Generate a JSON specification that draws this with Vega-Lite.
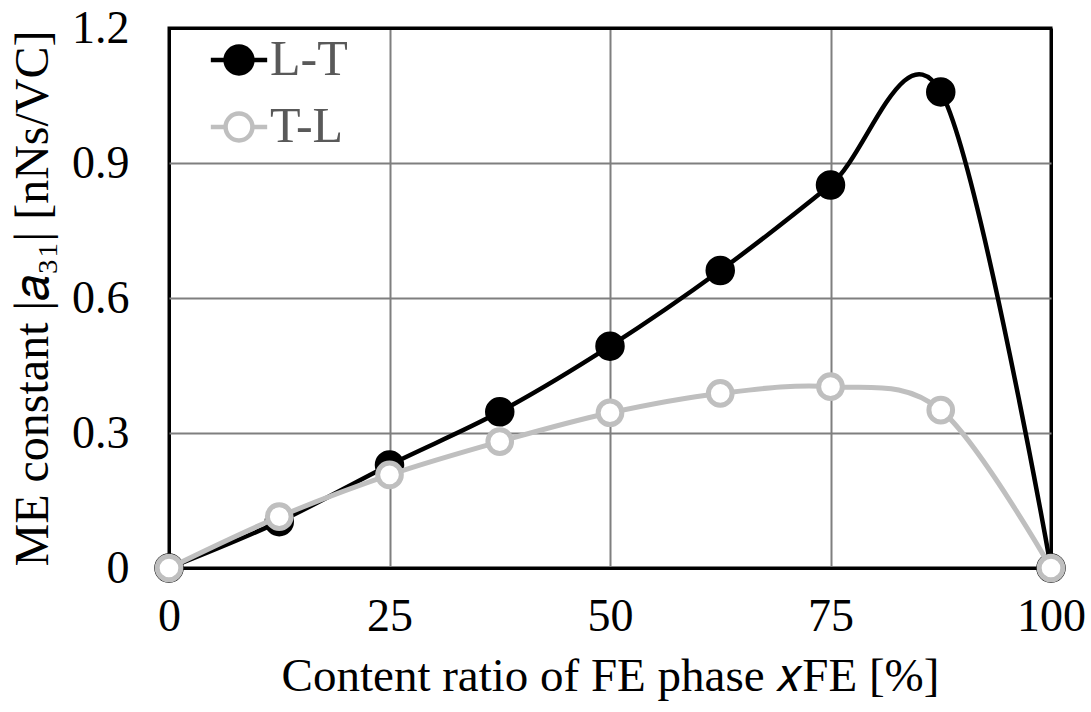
{
  "$schema": "https://vega.github.io/schema/vega-lite/v6.json",
  "width": 882,
  "height": 540,
  "autosize": "none",
  "padding": {"left": 169, "top": 28, "right": 40, "bottom": 144},
  "background": "white",
  "config": {
    "font": "Liberation Serif",
    "view": {"stroke": "black", "strokeWidth": 3},
    "legend": {
      "orient": "none", "legendX": 45, "legendY": 7, "title": null, "padding": 0,
      "symbolType": "M-1,0A1,1,0,1,0,1,0A1,1,0,1,0,-1,0Z M-2.1,0H-1 M1,0H2.1",
      "symbolSize": 720, "symbolStrokeWidth": 4.5,
      "labelFont": "Liberation Serif", "labelFontSize": 50, "labelColor": "#595959",
      "labelOffset": 6, "rowPadding": 17, "symbolOpacity": 1
    }
  },
  "data": {
    "values": [
      {"x": 0, "y": 0, "s": "L-T"},
      {"x": 12.5, "y": 0.103, "s": "L-T"},
      {"x": 25, "y": 0.229, "s": "L-T"},
      {"x": 37.5, "y": 0.347, "s": "L-T"},
      {"x": 50, "y": 0.493, "s": "L-T"},
      {"x": 62.5, "y": 0.661, "s": "L-T"},
      {"x": 75, "y": 0.851, "s": "L-T"},
      {"x": 87.5, "y": 1.058, "s": "L-T"},
      {"x": 100, "y": 0, "s": "L-T"},
      {"x": 0, "y": 0, "s": "T-L"},
      {"x": 12.5, "y": 0.114, "s": "T-L"},
      {"x": 25, "y": 0.207, "s": "T-L"},
      {"x": 37.5, "y": 0.281, "s": "T-L"},
      {"x": 50, "y": 0.345, "s": "T-L"},
      {"x": 62.5, "y": 0.388, "s": "T-L"},
      {"x": 75, "y": 0.403, "s": "T-L"},
      {"x": 87.5, "y": 0.351, "s": "T-L"},
      {"x": 100, "y": 0, "s": "T-L"}
    ]
  },
  "encoding": {
    "x": {
      "field": "x", "type": "quantitative",
      "scale": {"domain": [0, 100], "nice": false, "zero": false},
      "axis": {
        "values": [0, 25, 50, 75, 100],
        "title": "Content ratio of FE phase 𝑥FE [%]",
        "titleFont": "Liberation Serif", "titleFontSize": 47, "titleFontWeight": "normal", "titleColor": "black",
        "titlePadding": 14,
        "labelFont": "Liberation Serif", "labelFontSize": 46, "labelColor": "black",
        "labelPadding": 26, "labelFlush": false,
        "ticks": false, "tickSize": 0, "domain": false,
        "grid": true,
        "gridColor": {"condition": {"test": "datum.value == 0 || datum.value == 100", "value": "black"}, "value": "#7f7f7f"},
        "gridWidth": {"condition": {"test": "datum.value == 0 || datum.value == 100", "value": 3}, "value": 2}
      }
    },
    "y": {
      "field": "y", "type": "quantitative",
      "scale": {"domain": [0, 1.2], "nice": false},
      "axis": {
        "values": [0, 0.3, 0.6, 0.9, 1.2],
        "labelExpr": "datum.value == 0 ? '0' : format(datum.value, '.1f')",
        "title": "ME constant |𝑎₃₁| [nNs/VC]",
        "titleFont": "Liberation Serif", "titleFontSize": 48, "titleFontWeight": "normal", "titleColor": "black",
        "titlePadding": 14,
        "labelFont": "Liberation Serif", "labelFontSize": 46, "labelColor": "black",
        "labelPadding": 40, "labelFlush": false,
        "ticks": false, "tickSize": 0, "domain": false,
        "grid": true,
        "gridColor": {"condition": {"test": "datum.value == 0 || datum.value == 1.2", "value": "black"}, "value": "#7f7f7f"},
        "gridWidth": {"condition": {"test": "datum.value == 0 || datum.value == 1.2", "value": 3}, "value": 2}
      }
    }
  },
  "layer": [
    {
      "transform": [{"filter": "datum.s == 'L-T'"}],
      "mark": {"type": "line", "interpolate": "cardinal", "tension": 0, "strokeWidth": 4.5, "clip": false},
      "encoding": {
        "stroke": {"field": "s", "type": "nominal", "scale": {"domain": ["L-T", "T-L"], "range": ["#000000", "#bfbfbf"]}}
      }
    },
    {
      "transform": [{"filter": "datum.s == 'L-T'"}],
      "mark": {"type": "point", "filled": false, "size": 650, "strokeWidth": 4, "opacity": 1, "clip": false},
      "encoding": {
        "stroke": {"field": "s", "type": "nominal", "scale": {"domain": ["L-T", "T-L"], "range": ["#000000", "#bfbfbf"]}},
        "fill": {"field": "s", "type": "nominal", "scale": {"domain": ["L-T", "T-L"], "range": ["#000000", "#ffffff"]}}
      }
    },
    {
      "transform": [{"filter": "datum.s == 'T-L'"}],
      "mark": {"type": "line", "interpolate": "cardinal", "tension": 0, "strokeWidth": 5, "clip": false},
      "encoding": {
        "stroke": {"field": "s", "type": "nominal", "scale": {"domain": ["L-T", "T-L"], "range": ["#000000", "#bfbfbf"]}}
      }
    },
    {
      "transform": [{"filter": "datum.s == 'T-L'"}],
      "mark": {"type": "point", "filled": false, "size": 560, "strokeWidth": 5, "opacity": 1, "clip": false},
      "encoding": {
        "stroke": {"field": "s", "type": "nominal", "scale": {"domain": ["L-T", "T-L"], "range": ["#000000", "#bfbfbf"]}},
        "fill": {"field": "s", "type": "nominal", "scale": {"domain": ["L-T", "T-L"], "range": ["#000000", "#ffffff"]}}
      }
    }
  ]
}
